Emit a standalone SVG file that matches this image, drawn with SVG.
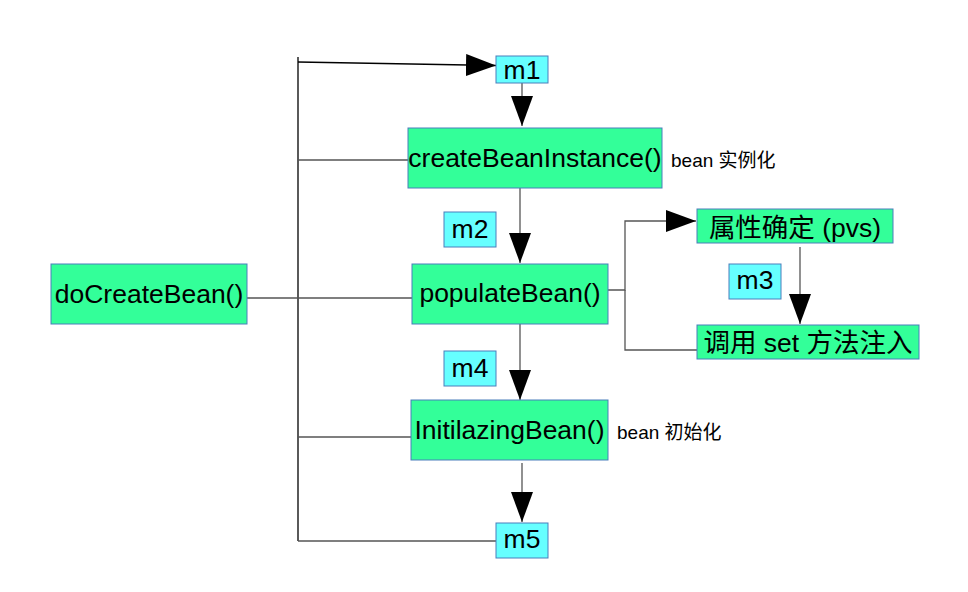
<svg xmlns="http://www.w3.org/2000/svg" width="968" height="592" viewBox="0 0 968 592">
<style>
.g{fill:#33ff99;stroke:#4a7ebb;stroke-width:1}
.c{fill:#66ffff;stroke:#4a7ebb;stroke-width:1}
.t{font-family:"Liberation Sans","Noto Sans CJK SC",sans-serif;font-size:26.5px;fill:#000;text-anchor:middle}
.s{font-family:"Liberation Sans","Noto Sans CJK SC",sans-serif;font-size:19px;fill:#000}
.l{stroke:#555;stroke-width:1.3;fill:none}
.k{stroke:#000;stroke-width:1.3;fill:none}
</style>
<defs>
<marker id="a" markerUnits="userSpaceOnUse" markerWidth="30" markerHeight="22" refX="30" refY="11" orient="auto" viewBox="0 0 30 22">
<path d="M0,0 L30,11 L0,22 Z" fill="#000"/>
</marker>
</defs>
<rect width="968" height="592" fill="#fff"/>
<g id="connectors">
<path class="k" d="M298,57 V541"/>
<path class="k" d="M298,62 L496,65.5" marker-end="url(#a)"/>
<path class="l" d="M522,83 V126" marker-end="url(#a)"/>
<path class="l" d="M298,160 H408"/>
<path class="l" d="M520,188 V263" marker-end="url(#a)"/>
<path class="l" d="M247,298 H412"/>
<path class="l" d="M608,290 H625 V221 H696" marker-end="url(#a)"/>
<path class="l" d="M625,290 V350 H697"/>
<path class="l" d="M800,247 V324" marker-end="url(#a)"/>
<path class="l" d="M520,324 V400" marker-end="url(#a)"/>
<path class="l" d="M298,437 H411"/>
<path class="l" d="M522,463 V522" marker-end="url(#a)"/>
<path class="l" d="M298,541 H496"/>
</g>
<g id="m1"><rect class="c" x="496" y="56" width="52" height="27"/><text class="t" x="522" y="79">m1</text></g>
<g id="createBeanInstance"><rect class="g" x="408" y="128" width="254" height="60"/><text class="t" x="535" y="167">createBeanInstance()</text></g>
<text class="s" x="671" y="167">bean 实例化</text>
<g id="m2"><rect class="c" x="444" y="212" width="52" height="35"/><text class="t" x="470" y="238">m2</text></g>
<g id="doCreateBean"><rect class="g" x="51" y="264" width="196" height="60"/><text class="t" x="149" y="303">doCreateBean()</text></g>
<g id="populateBean"><rect class="g" x="412" y="264" width="196" height="60"/><text class="t" x="510" y="302">populateBean()</text></g>
<g id="pvs"><rect class="g" x="697" y="209" width="196" height="34"/><text class="t" x="795" y="237">属性确定 (pvs)</text></g>
<g id="m3"><rect class="c" x="729" y="264" width="52" height="35"/><text class="t" x="755" y="289">m3</text></g>
<g id="setInject"><rect class="g" x="697" y="325" width="222" height="34"/><text class="t" x="808" y="352">调用 set 方法注入</text></g>
<g id="m4"><rect class="c" x="444" y="351" width="52" height="35"/><text class="t" x="470" y="377">m4</text></g>
<g id="InitilazingBean"><rect class="g" x="411" y="400" width="197" height="60"/><text class="t" x="509.5" y="439">InitilazingBean()</text></g>
<text class="s" x="617" y="439">bean 初始化</text>
<g id="m5"><rect class="c" x="496" y="523" width="52" height="35"/><text class="t" x="522" y="548">m5</text></g>
</svg>
